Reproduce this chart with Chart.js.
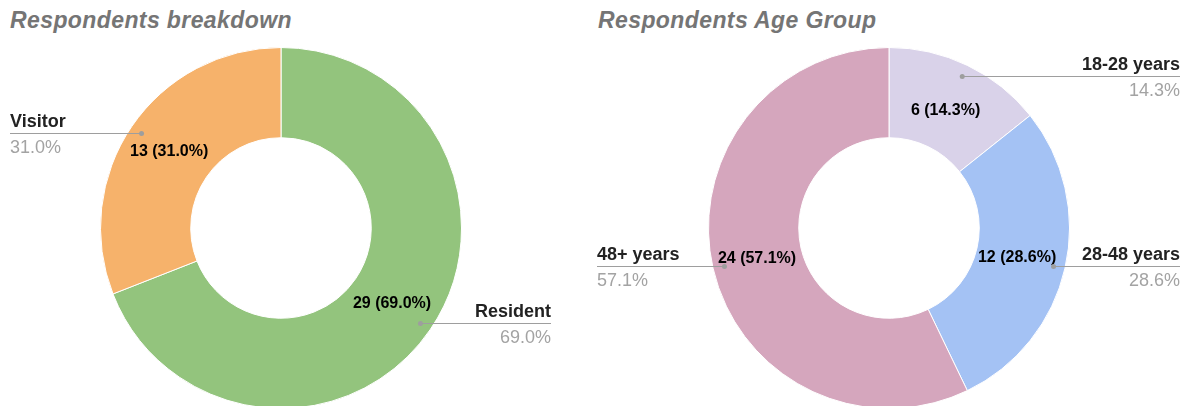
<!DOCTYPE html>
<html>
<head>
<meta charset="utf-8">
<script src="https://cdn.jsdelivr.net/npm/chart.js@4/dist/chart.umd.min.js"></script>
<style>
  html, body { margin: 0; padding: 0; background: #fff; overflow: hidden; }
  body { width: 1187px; height: 406px; position: relative; }
  .title {
    position: absolute; top: 7px;
    font: italic bold 23px "Liberation Sans", Arial, sans-serif;
    letter-spacing: 0.4px;
    color: #757575; white-space: nowrap;
  }
  canvas { position: absolute; top: 0; }
</style>
</head>
<body>
<div class="title" style="left:10px">Respondents breakdown</div>
<div class="title" style="left:598px">Respondents Age Group</div>
<canvas id="left" width="594" height="420" style="left:0"></canvas>
<canvas id="right" width="593" height="420" style="left:594px"></canvas>
<script>
// data
const respondentLabels = ['Resident', 'Visitor']
const respondentCounts = [29, 13]
const respondentColors = ['#93c47d', '#f6b26b']

const ageLabels = ['18-28 years', '28-48 years', '48+ years']
const ageCounts = [6, 12, 24]
const ageColors = ['#d9d2e9', '#a4c2f4', '#d5a6bd']

// draws the inside value labels and the outside leader-line labels
const sliceLabels = {
  id: 'sliceLabels',
  afterDatasetsDraw(chart, args, opts) {
    const ctx = chart.ctx
    const meta = chart.getDatasetMeta(0)
    const values = chart.data.datasets[0].data
    const total = values.reduce((a, b) => a + b, 0)
    ctx.save()
    meta.data.forEach((arc, i) => {
      const { x, y, startAngle, endAngle, innerRadius, outerRadius } = arc.getProps(
        ['x', 'y', 'startAngle', 'endAngle', 'innerRadius', 'outerRadius'], true)
      const mid = (startAngle + endAngle) / 2
      const pct = (values[i] / total * 100).toFixed(1) + '%'

      // inside label
      const rIn = (innerRadius + outerRadius) / 2 - (opts.inset ? opts.inset[i] : 0)
      ctx.fillStyle = '#000'
      ctx.font = 'bold 16px "Liberation Sans", Arial, sans-serif'
      ctx.textAlign = 'center'
      ctx.textBaseline = 'middle'
      ctx.fillText(values[i] + ' (' + pct + ')', x + Math.cos(mid) * rIn, y + Math.sin(mid) * rIn)

      // leader line
      const dx = x + Math.cos(mid) * outerRadius * 0.935
      const dy = Math.round(y + Math.sin(mid) * outerRadius * 0.935)
      const leftSide = Math.cos(mid) < 0
      const endX = leftSide ? opts.leftX : opts.rightX
      ctx.strokeStyle = '#9e9e9e'
      ctx.lineWidth = 1
      ctx.beginPath()
      ctx.moveTo(dx, dy + 0.5)
      ctx.lineTo(endX, dy + 0.5)
      ctx.stroke()
      ctx.fillStyle = '#9e9e9e'
      ctx.beginPath()
      ctx.arc(dx, dy + 0.5, 2.5, 0, Math.PI * 2)
      ctx.fill()

      ctx.textAlign = leftSide ? 'left' : 'right'
      ctx.textBaseline = 'alphabetic'
      ctx.fillStyle = '#222'
      ctx.font = 'bold 18px "Liberation Sans", Arial, sans-serif'
      ctx.fillText(chart.data.labels[i], endX, dy - 6)
      ctx.fillStyle = '#a3a3a3'
      ctx.font = '18px "Liberation Sans", Arial, sans-serif'
      ctx.fillText(pct, endX, dy + 20)
    })
    ctx.restore()
  }
}

function makeDoughnut(id, labels, counts, colors, padding, anchors) {
  return new Chart(document.getElementById(id), {
    type: 'doughnut',
    data: {
      labels: labels,
      datasets: [{
        data: counts,
        backgroundColor: colors,
        borderColor: '#ffffff',
        borderWidth: 1,
      }],
    },
    options: {
      responsive: false,
      animation: false,
      cutout: '50%',
      layout: { padding: padding },
      plugins: {
        legend: { display: false },
        tooltip: { enabled: false },
        sliceLabels: anchors,
      },
    },
    plugins: [sliceLabels],
  })
}

makeDoughnut('left', respondentLabels, respondentCounts, respondentColors,
  { left: 100, right: 132, top: 47, bottom: 11 },
  { leftX: 10, rightX: 551, inset: [1, 0] })

makeDoughnut('right', ageLabels, ageCounts, ageColors,
  { left: 114, right: 117, top: 47, bottom: 11 },
  { leftX: 3, rightX: 586, inset: [5, 4, 0] })
</script>
</body>
</html>
